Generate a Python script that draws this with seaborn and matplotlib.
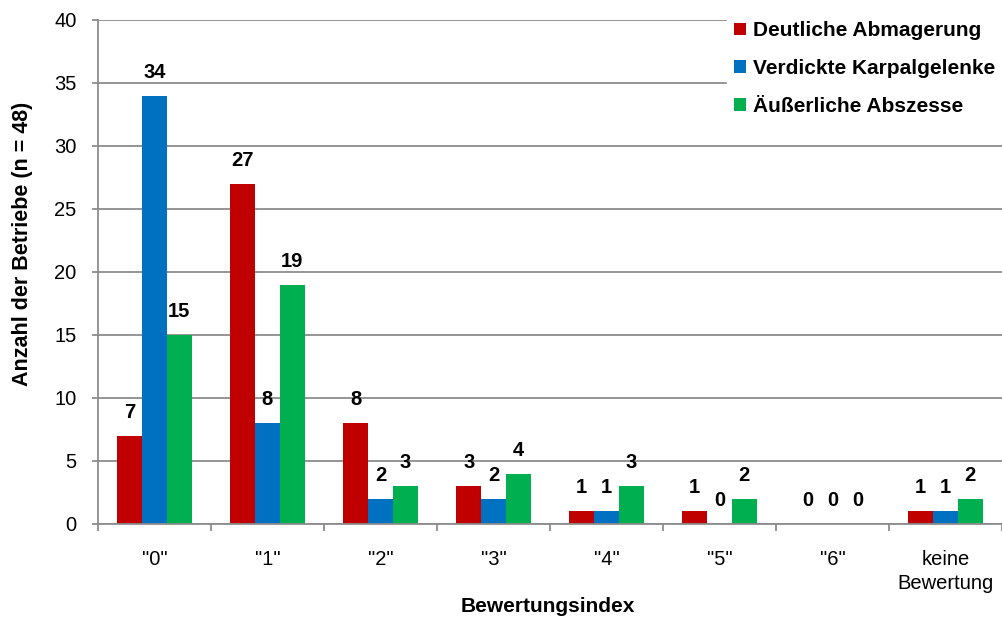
import matplotlib
matplotlib.use("Agg")
import matplotlib.pyplot as plt
from matplotlib.patches import Patch
from matplotlib.ticker import FixedLocator
import seaborn as sns
import pandas as pd

# Bewertungsindex categories and counts per criterion
categories = ['"0"', '"1"', '"2"', '"3"', '"4"', '"5"', '"6"', 'keine\nBewertung']
series_names = ["Deutliche Abmagerung", "Verdickte Karpalgelenke", "Äußerliche Abszesse"]
abmagerung = [7, 27, 8, 3, 1, 1, 0, 1]
karpalgelenke = [34, 8, 2, 2, 1, 0, 0, 1]
abszesse = [15, 19, 3, 4, 3, 2, 0, 2]
colors = ["#C00000", "#0070C0", "#00B050"]

rows = []
for name, vals in zip(series_names, [abmagerung, karpalgelenke, abszesse]):
    for cat, v in zip(categories, vals):
        rows.append({"Kategorie": cat, "Merkmal": name, "Anzahl": v})
df = pd.DataFrame(rows)

sns.set_style("white")
plt.rcParams["font.family"] = ["Liberation Sans", "DejaVu Sans"]
plt.rcParams["text.color"] = "black"
plt.rcParams["axes.labelcolor"] = "black"
plt.rcParams["xtick.color"] = "black"
plt.rcParams["ytick.color"] = "black"

fig = plt.figure(figsize=(10.03, 6.19), dpi=100)
ax = fig.add_axes([0.0977, 0.1535, 0.9013, 0.8142])

sns.barplot(data=df, x="Kategorie", y="Anzahl", hue="Merkmal",
            order=categories, hue_order=series_names, palette=colors,
            width=0.66, gap=0, ax=ax, legend=False, errorbar=None,
            edgecolor="none", linewidth=0, saturation=1)

# value labels above each bar
for container in ax.containers:
    ax.bar_label(container, fmt="%d", padding=10, fontsize=14.5,
                 fontweight="bold", color="black")

ax.set_ylim(0, 40)
ax.set_yticks(range(0, 41, 5))
ax.set_xlim(-0.5, len(categories) - 0.5)
ax.yaxis.grid(True, color="#8c8c8c", linewidth=1.3)
ax.set_axisbelow(True)

for side in ["top", "right"]:
    ax.spines[side].set_visible(False)
for side in ["left", "bottom"]:
    ax.spines[side].set_color("#8c8c8c")
    ax.spines[side].set_linewidth(1.3)

ax.tick_params(axis="y", length=4.3, width=1.3, color="#8c8c8c", labelcolor="black",
               labelsize=14.5, pad=11, direction="out", left=True)
ax.tick_params(axis="x", which="major", length=0, labelsize=14.5, pad=19, labelcolor="black")
ax.xaxis.set_minor_locator(FixedLocator([i - 0.5 for i in range(len(categories) + 1)]))
ax.tick_params(axis="x", which="minor", length=5, width=1.3, color="#8c8c8c",
               direction="out", bottom=True)
for lbl in ax.get_xticklabels():
    lbl.set_linespacing(1.3)

ax.set_xlabel("Bewertungsindex", fontsize=15, fontweight="bold")
ax.set_ylabel("Anzahl der Betriebe (n = 48)", fontsize=15.5, fontweight="bold")
ax.xaxis.set_label_coords(0.498, -0.145)
ax.yaxis.set_label_coords(-0.072, 0.556)

handles = [Patch(facecolor=c, edgecolor="none") for c in colors]
leg = ax.legend(handles, series_names, loc="upper right", bbox_to_anchor=(1.005, 1.02),
                frameon=True, fancybox=False, framealpha=1, edgecolor="white",
                handlelength=0.55, handleheight=0.55, handletextpad=0.35,
                labelspacing=0.9, borderpad=0.35, borderaxespad=0.2,
                prop={"size": 15, "weight": "bold"})

fig.savefig("out.png", dpi=100)
